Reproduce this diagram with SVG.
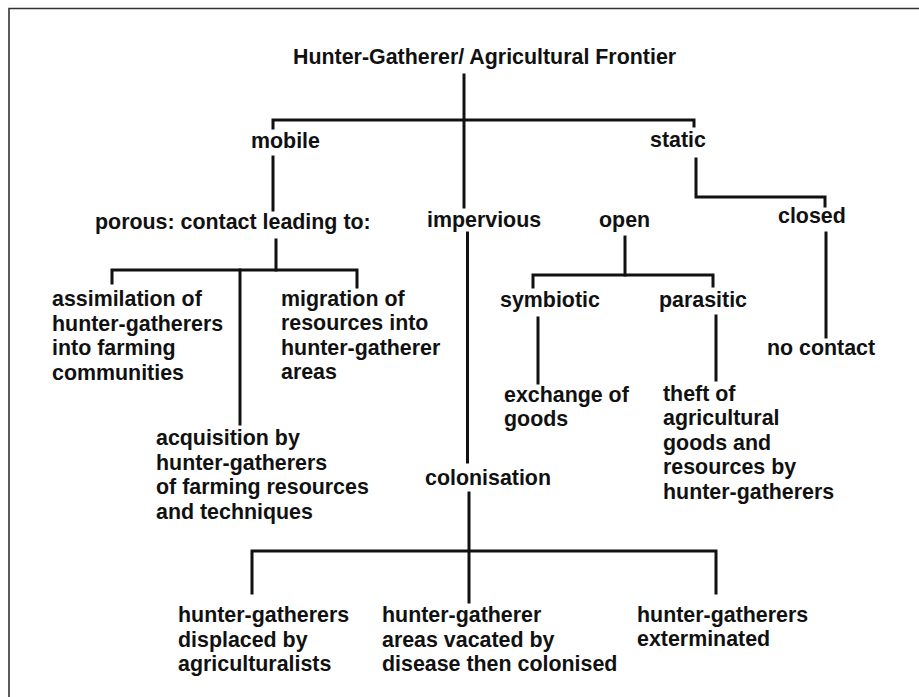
<svg xmlns="http://www.w3.org/2000/svg" width="919" height="697" viewBox="0 0 919 697">
<style>
text{font-family:"Liberation Sans",Arial,sans-serif;font-weight:bold;font-size:21.4px;fill:#111}
.c{fill:none;stroke:#111;stroke-width:3;stroke-linecap:square;stroke-linejoin:miter}
.f{fill:none;stroke:#333;stroke-width:1.6}
</style>
<rect width="919" height="697" fill="#fff"/>
<path class="f" d="M9,697 V8.5 H919"/>
<g id="connectors">
<path class="c" d="M464,75 V207"/>
<path class="c" d="M273,128 V120 H694 V126"/>
<path class="c" d="M273,157 V210"/>
<path class="c" d="M696,159 V197 H825 V206"/>
<path class="c" d="M826,233 V337"/>
<path class="c" d="M276,240 V270"/>
<path class="c" d="M112,283 V270 H357 V287"/>
<path class="c" d="M240,270 V424"/>
<path class="c" d="M467.5,233 V462"/>
<path class="c" d="M469,493 V602"/>
<path class="c" d="M252,593 V551 H716 V593"/>
<path class="c" d="M625,237 V275"/>
<path class="c" d="M533,287 V275 H713 V286"/>
<path class="c" d="M538,318 V383"/>
<path class="c" d="M716,316 V380"/>
</g>
<g id="title"><text x="293" y="64">Hunter-Gatherer/ Agricultural Frontier</text></g>
<g id="mobile"><text x="251" y="148">mobile</text></g>
<g id="static"><text x="650" y="147">static</text></g>
<g id="porous"><text x="95" y="229">porous: contact leading to:</text></g>
<g id="impervious"><text x="427" y="227">impervious</text></g>
<g id="open"><text x="599" y="227">open</text></g>
<g id="closed"><text x="778" y="223">closed</text></g>
<g id="assimilation"><text x="52" y="306">assimilation of</text><text x="52" y="330.6">hunter-gatherers</text><text x="52" y="355.2">into farming</text><text x="52" y="379.8">communities</text></g>
<g id="migration"><text x="281" y="305.5">migration of</text><text x="281" y="330">resources into</text><text x="281" y="354.6">hunter-gatherer</text><text x="281" y="379.2">areas</text></g>
<g id="acquisition"><text x="156" y="445">acquisition by</text><text x="156" y="469.5">hunter-gatherers</text><text x="156" y="494">of farming resources</text><text x="156" y="518.5">and techniques</text></g>
<g id="symbiotic"><text x="500" y="307">symbiotic</text></g>
<g id="parasitic"><text x="659" y="307">parasitic</text></g>
<g id="exchange"><text x="504" y="401.5">exchange of</text><text x="504" y="425.5">goods</text></g>
<g id="theft"><text x="663" y="400.5">theft of</text><text x="663" y="425">agricultural</text><text x="663" y="449.5">goods and</text><text x="663" y="474">resources by</text><text x="663" y="498.5">hunter-gatherers</text></g>
<g id="nocontact"><text x="767" y="355">no contact</text></g>
<g id="colonisation"><text x="425" y="485">colonisation</text></g>
<g id="displaced"><text x="178" y="622">hunter-gatherers</text><text x="178" y="646.5">displaced by</text><text x="178" y="671">agriculturalists</text></g>
<g id="vacated"><text x="382" y="622">hunter-gatherer</text><text x="382" y="646.5">areas vacated by</text><text x="382" y="671">disease then colonised</text></g>
<g id="exterminated"><text x="637" y="622">hunter-gatherers</text><text x="637" y="646">exterminated</text></g>
</svg>
